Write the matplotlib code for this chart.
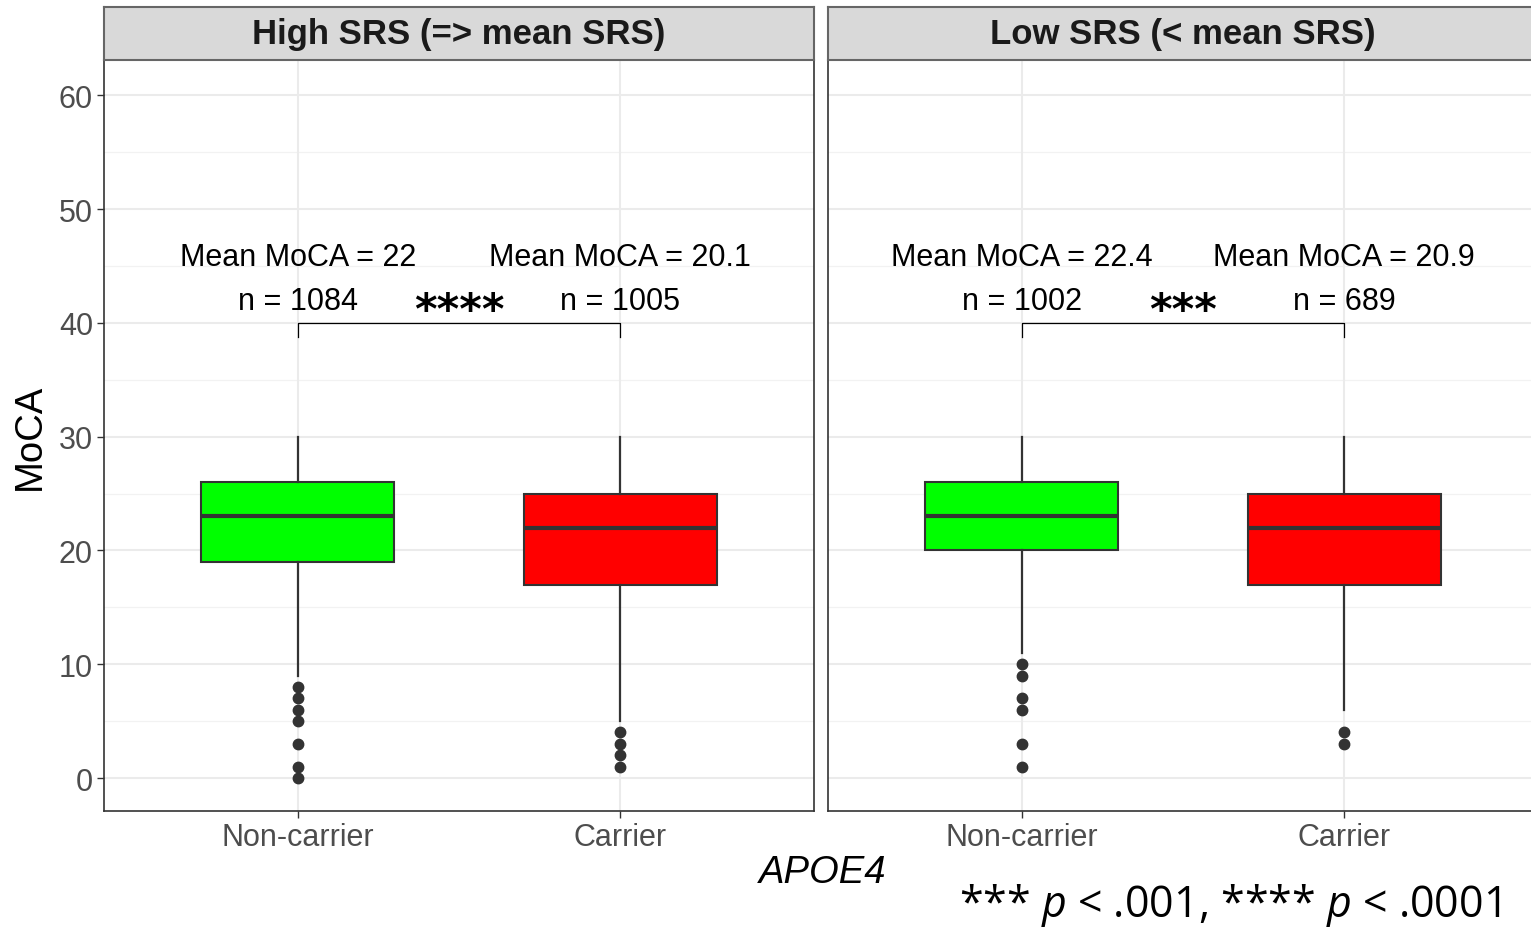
import matplotlib.pyplot as plt

plt.rcParams['font.family'] = ['Liberation Sans', 'DejaVu Sans']
plt.rcParams['mathtext.fontset'] = 'custom'
plt.rcParams['mathtext.it'] = 'Open Sans:italic'
plt.rcParams['mathtext.rm'] = 'Open Sans'

# data
panels = ['High SRS (=> mean SRS)', 'Low SRS (< mean SRS)']
groups = ['Non-carrier', 'Carrier']
box_colors = ['#00FF00', '#FF0000']

# per panel, per group: [whisker low, Q1, median, Q3, whisker high]
box_stats = [
    [[9, 19, 23, 26, 30], [5, 17, 22, 25, 30]],
    [[11, 20, 23, 26, 30], [6, 17, 22, 25, 30]],
]
outliers = [
    [[8, 7, 6, 5, 3, 1, 0], [4, 3, 2, 1]],
    [[10, 9, 7, 6, 3, 1], [4, 3]],
]
mean_moca = [['22', '20.1'], ['22.4', '20.9']]
n_counts = [['1084', '1005'], ['1002', '689']]
stars = ['****', '***']

y_ticks = [0, 10, 20, 30, 40, 50, 60]
minor_ticks = [5, 15, 25, 35, 45, 55]

W, H = 1531, 928
fig = plt.figure(figsize=(W / 100, H / 100), dpi=100)

panel_left = [104, 828]
panel_w = 710
top, bottom = 61, 812
strip_top = 8

for p in range(2):
    x0 = panel_left[p]
    ax = fig.add_axes([x0 / W, 1 - bottom / H, panel_w / W, (bottom - top) / H])
    ax.set_xlim(0.4, 2.6)
    ax.set_ylim(-2.9, 63.1)
    ax.set_facecolor('white')

    # grid
    for y in minor_ticks:
        ax.axhline(y, color='#F2F2F2', lw=0.9, zorder=0)
    for y in y_ticks:
        ax.axhline(y, color='#EBEBEB', lw=1.5, zorder=0)
    for x in [1, 2]:
        ax.axvline(x, color='#EBEBEB', lw=1.5, zorder=0)

    stats = []
    for g in range(2):
        lo, q1, med, q3, hi = box_stats[p][g]
        stats.append(dict(whislo=lo, q1=q1, med=med, q3=q3, whishi=hi,
                          fliers=outliers[p][g], label=groups[g]))
    bp = ax.bxp(stats, positions=[1, 2], widths=0.6, patch_artist=True,
                showcaps=False,
                boxprops=dict(edgecolor='#333333', linewidth=1.5),
                whiskerprops=dict(color='#333333', linewidth=1.6),
                medianprops=dict(color='#333333', linewidth=3),
                flierprops=dict(marker='o', markerfacecolor='#333333',
                                markeredgecolor='#333333', markersize=7.5))
    for patch, c in zip(bp['boxes'], box_colors):
        patch.set_facecolor(c)
        patch.set_zorder(2)

    # annotations
    for g, x in enumerate([1, 2]):
        ax.text(x, 45.8, 'Mean MoCA = ' + mean_moca[p][g], ha='center',
                va='center', fontsize=22, color='black')
        ax.text(x, 41.9, 'n = ' + n_counts[p][g], ha='center',
                va='center', fontsize=22, color='black')
    ax.plot([1, 1, 2, 2], [38.8, 40, 40, 38.8], color='black', lw=0.9)
    ax.text(1.5, 41.0, stars[p], ha='center', va='center', fontsize=31,
            family='DejaVu Sans', fontweight='bold', color='black')

    ax.set_xticks([1, 2])
    ax.set_xticklabels(groups, fontsize=22, color='#4D4D4D')
    ax.set_yticks(y_ticks)
    if p == 0:
        ax.set_yticklabels([str(v) for v in y_ticks], fontsize=22,
                           color='#4D4D4D')
    else:
        ax.set_yticklabels([])
    ax.tick_params(axis='both', color='#333333', width=1, length=5, pad=3)
    if p == 1:
        ax.tick_params(axis='y', length=0)
    for s in ax.spines.values():
        s.set_color('#333333')
        s.set_linewidth(1.2)

    # strip header
    sax = fig.add_axes([x0 / W, 1 - top / H, panel_w / W, (top - strip_top) / H])
    sax.set_xticks([])
    sax.set_yticks([])
    sax.set_facecolor('#D9D9D9')
    for s in sax.spines.values():
        s.set_color('#666666')
        s.set_linewidth(1.5)
    sax.text(0.5, 0.5, panels[p], ha='center', va='center', fontsize=25,
             fontweight='bold', color='#1A1A1A', transform=sax.transAxes)

fig.text(30 / W, 1 - 437 / H, 'MoCA', rotation=90, ha='center', va='center',
         fontsize=27.5, color='black')
fig.text(823 / W, 1 - 873 / H, 'APOE4', ha='center', va='center',
         fontsize=27.5, style='italic', color='black')
fig.text(1230 / W, 1 - 906 / H, r'*** $p$ < .001, **** $p$ < .0001',
         ha='center', va='center', fontsize=31, family='Open Sans',
         color='black')

fig.savefig('out.png', dpi=100)
